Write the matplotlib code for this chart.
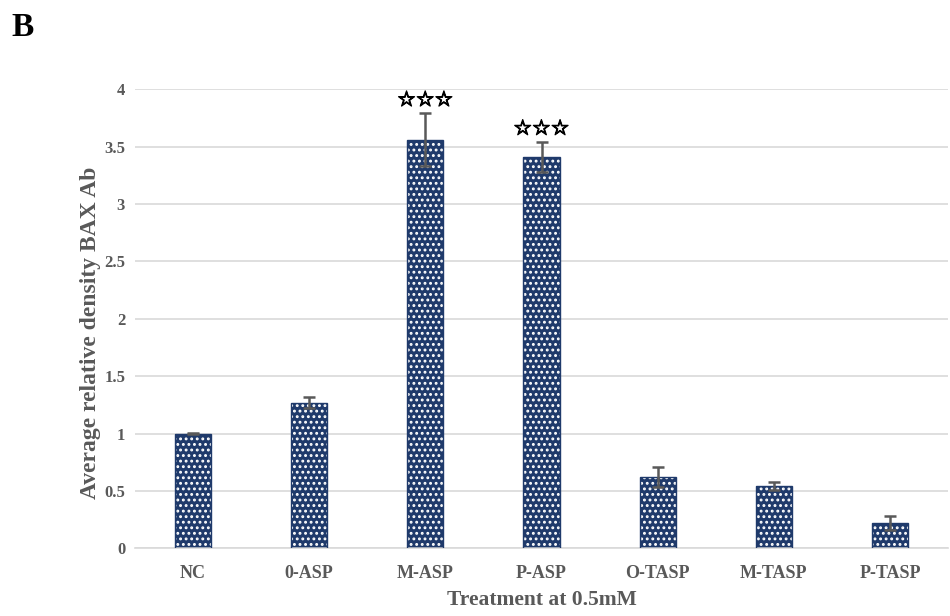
import matplotlib.pyplot as plt
import matplotlib.patheffects as pe
import numpy as np

# data
groups = ["NC", "0-ASP", "M-ASP", "P-ASP", "O-TASP", "M-TASP", "P-TASP"]
means = [1.0, 1.27, 3.56, 3.41, 0.62, 0.54, 0.22]
errors = [0.005, 0.05, 0.23, 0.13, 0.09, 0.035, 0.06]
marks = ["", "", "☆☆☆", "☆☆☆", "", "", ""]

navy = "#1f3a6b"
grey = "#595959"

plt.rcParams['hatch.linewidth'] = 1.3

fig = plt.figure(figsize=(9.5, 6.16), dpi=100)
ax = fig.add_axes([0.142, 0.11, 0.856, 0.745])

x = np.arange(len(groups))
ax.bar(x, means, width=0.31, color=navy, edgecolor="white", hatch="...", linewidth=0, zorder=2)
ax.bar(x, means, width=0.31, fill=False, edgecolor=navy, linewidth=1.0, zorder=3)
ax.errorbar(x, means, yerr=errors, fmt="none", ecolor=grey, elinewidth=1.8,
            capsize=4, capthick=1.8, zorder=4)

# significance stars above the error bars
for xi, m, e, s in zip(x, means, errors, marks):
    if s:
        ax.text(xi, m + e + 0.03, s, ha="center", va="bottom", fontsize=15,
                fontweight="bold", family=["DejaVu Sans"], color="black",
                path_effects=[pe.withStroke(linewidth=0.9, foreground="black")])

ax.set_xlim(-0.5, len(groups) - 0.5)
ax.set_ylim(0, 4)
ax.set_yticks(np.arange(0, 4.01, 0.5))
ax.set_yticklabels(["0", "0.5", "1", "1.5", "2", "2.5", "3", "3.5", "4"])
ax.set_xticks(x)
ax.set_xticklabels(groups)
ax.grid(axis="y", color="#d9d9d9", linewidth=1.2, zorder=0)
ax.set_axisbelow(True)
for side in ["top", "right", "left"]:
    ax.spines[side].set_visible(False)
ax.spines["bottom"].set_color("#d9d9d9")
ax.spines["bottom"].set_linewidth(1.2)
ax.tick_params(axis="y", length=0, pad=7, labelcolor=grey)
ax.tick_params(axis="x", length=0, pad=12, labelcolor=grey)
for lab in ax.get_yticklabels():
    lab.set_fontfamily("Liberation Serif")
    lab.set_fontweight("bold")
    lab.set_fontsize(12)
for lab in ax.get_xticklabels():
    lab.set_fontfamily("Liberation Serif")
    lab.set_fontweight("bold")
    lab.set_fontsize(13)

ax.set_xlabel("Treatment at 0.5mM", fontsize=15.5, fontweight="bold",
              family="Liberation Serif", color=grey, labelpad=6)
ax.set_ylabel("Average relative density BAX Ab", fontsize=17, fontweight="bold",
              family="Liberation Serif", color=grey, labelpad=2)
ax.yaxis.label.set_y(0.47)

fig.text(0.012, 0.955, "B", fontsize=24, fontweight="bold", family="Liberation Serif",
         va="center", ha="left")

fig.savefig("out.png", dpi=100)
